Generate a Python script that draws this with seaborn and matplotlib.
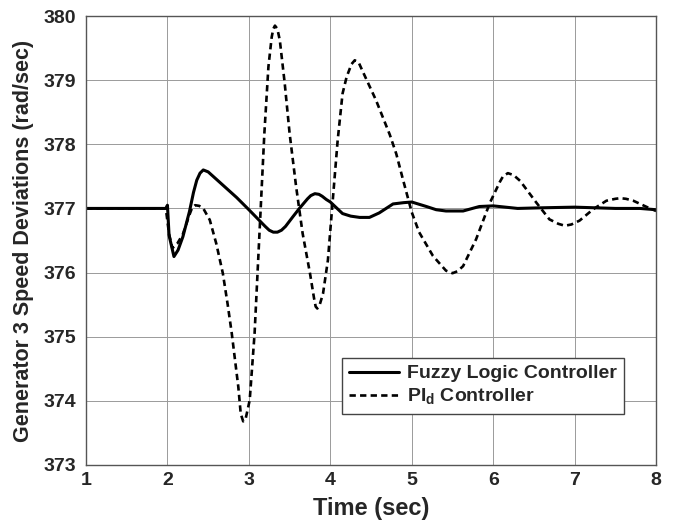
import matplotlib
matplotlib.use('Agg')
import matplotlib.pyplot as plt
import seaborn as sns
import pandas as pd

# 读图得到的数据点
t_fuzzy = [1.0, 1.5, 1.98, 2.0, 2.02, 2.08, 2.13, 2.19, 2.27, 2.32, 2.36, 2.40, 2.44, 2.5,
           2.64, 2.85, 3.0, 3.10, 3.20, 3.25, 3.30, 3.35, 3.40, 3.45, 3.54, 3.62, 3.72, 3.76,
           3.81, 3.86, 3.90, 3.95, 4.0, 4.15, 4.25, 4.36, 4.48, 4.6, 4.77, 4.9, 5.0, 5.18,
           5.3, 5.42, 5.63, 5.83, 6.0, 6.3, 6.6, 7.0, 7.5, 7.8, 8.0]
y_fuzzy = [377.0, 377.0, 377.0, 377.05, 376.58, 376.25, 376.35, 376.56, 376.95, 377.25, 377.44, 377.55, 377.6, 377.57,
           377.41, 377.17, 376.98, 376.85, 376.72, 376.66, 376.63, 376.63, 376.66, 376.72, 376.87, 377.0, 377.15, 377.2,
           377.23, 377.22, 377.19, 377.14, 377.1, 376.92, 376.88, 376.86, 376.86, 376.93, 377.07, 377.09, 377.1, 377.03,
           376.98, 376.96, 376.96, 377.03, 377.04, 377.0, 377.01, 377.02, 377.0, 377.0, 376.98]

t_pid = [1.0, 1.5, 1.98, 2.02, 2.06, 2.12, 2.19, 2.27, 2.30, 2.34, 2.39, 2.44, 2.52, 2.60,
         2.68, 2.74, 2.79, 2.87, 2.90, 2.93, 2.96, 3.01, 3.07, 3.11, 3.15, 3.19, 3.24, 3.28,
         3.30, 3.32, 3.35, 3.38, 3.44, 3.50, 3.58, 3.66, 3.75, 3.80, 3.82, 3.84, 3.87, 3.91,
         3.97, 4.03, 4.09, 4.15, 4.20, 4.26, 4.30, 4.35, 4.40, 4.56, 4.73, 4.81, 4.89, 5.0,
         5.09, 5.26, 5.35, 5.42, 5.50, 5.56, 5.63, 5.79, 5.96, 6.08, 6.12, 6.18, 6.25, 6.33,
         6.53, 6.69, 6.80, 6.88, 6.96, 7.06, 7.23, 7.39, 7.50, 7.56, 7.63, 7.72, 7.89, 8.0]
y_pid = [377.0, 377.0, 377.0, 376.6, 376.38, 376.45, 376.6, 376.9, 377.0, 377.05, 377.04, 377.0, 376.82, 376.45,
         375.99, 375.5, 375.05, 374.22, 373.8, 373.68, 373.72, 374.01, 375.05, 376.09, 377.13, 378.17, 379.21, 379.67,
         379.8, 379.85, 379.8, 379.62, 378.95, 378.17, 377.34, 376.61, 375.99, 375.6, 375.47, 375.44, 375.5, 375.67,
         376.19, 377.13, 378.06, 378.79, 379.05, 379.25, 379.31, 379.27, 379.13, 378.69, 378.15, 377.85, 377.46, 376.94,
         376.63, 376.26, 376.13, 376.03, 375.99, 376.02, 376.1, 376.52, 377.09, 377.41, 377.5, 377.55, 377.52, 377.43,
         377.09, 376.83, 376.76, 376.73, 376.75, 376.81, 376.99, 377.12, 377.15, 377.16, 377.15, 377.12, 377.02, 376.96]

x_ticks = [1, 2, 3, 4, 5, 6, 7, 8]
y_ticks = [373, 374, 375, 376, 377, 378, 379, 380]

sns.set_style('white')
plt.rcParams['font.family'] = ['Liberation Sans', 'DejaVu Sans']
plt.rcParams['font.weight'] = 'bold'
plt.rcParams['mathtext.fontset'] = 'custom'
plt.rcParams['mathtext.rm'] = 'Liberation Sans:bold'
plt.rcParams['mathtext.bf'] = 'Liberation Sans:bold'

df_fuzzy = pd.DataFrame({'t': t_fuzzy, 'w': y_fuzzy})
df_pid = pd.DataFrame({'t': t_pid, 'w': y_pid})

fig = plt.figure(figsize=(6.75, 5.25), dpi=100)
ax = fig.add_axes([0.1274, 0.1143, 0.8446, 0.8552])

sns.lineplot(data=df_fuzzy, x='t', y='w', ax=ax, color='black', linewidth=2.2,
             sort=False, label='Fuzzy Logic Controller')
sns.lineplot(data=df_pid, x='t', y='w', ax=ax, color='black', linewidth=1.9,
             sort=False, label=r'PI$_\mathbf{d}$ Controller')
ax.lines[1].set_dashes((2.4, 1.6))

ax.set_xlim(1, 8)
ax.set_ylim(373, 380)
ax.set_xticks(x_ticks)
ax.set_yticks(y_ticks)
ax.tick_params(axis='both', labelsize=14, length=0)
ax.tick_params(axis='x', pad=5)
ax.tick_params(axis='y', pad=7)
for lab in ax.get_xticklabels() + ax.get_yticklabels():
    lab.set_fontweight('bold')

ax.grid(True, color='#9a9a9a', linewidth=0.7, linestyle='-')
for sp in ax.spines.values():
    sp.set_color('#555555')
    sp.set_linewidth(1.0)

ax.set_xlabel('Time (sec)', fontsize=17, fontweight='bold', labelpad=6)
ax.set_ylabel('Generator 3 Speed Deviations (rad/sec)', fontsize=15.5, fontweight='bold', labelpad=7)

leg = ax.legend(loc='lower left', bbox_to_anchor=(0.4486, 0.1129), fontsize=14,
                handlelength=2.6, handletextpad=0.4, borderpad=0.35, labelspacing=0.25,
                fancybox=False, framealpha=1, edgecolor='#444444', borderaxespad=0)
leg.get_frame().set_linewidth(1.0)
leg.get_lines()[1].set_dashes((2.4, 1.6))
for txt in leg.get_texts():
    txt.set_fontweight('bold')

fig.savefig('out.png', dpi=100)
